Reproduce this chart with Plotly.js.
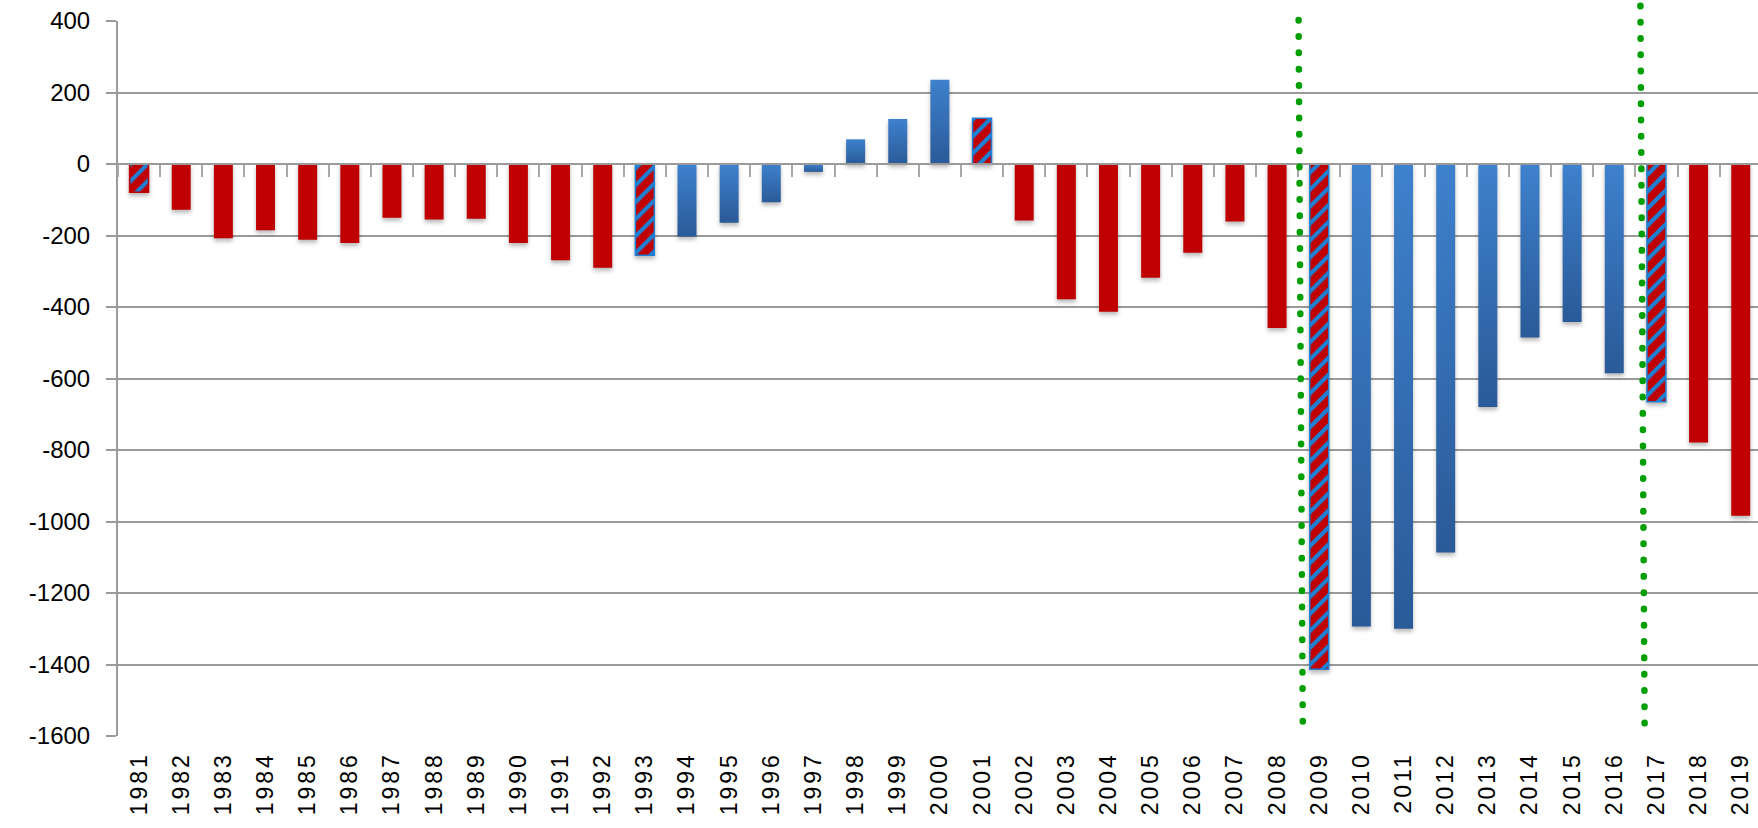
<!DOCTYPE html>
<html><head><meta charset="utf-8">
<script src="https://cdn.plot.ly/plotly-3.0.1.min.js"></script>
<style>
html,body{margin:0;padding:0;background:#fff;}
#chart{width:1758px;height:828px;}
.shapelayer path{stroke-linecap:round !important;}
.xtick text{letter-spacing:3px;}
.bars .point path{filter:drop-shadow(0px 3px 2px rgba(0,0,0,0.28));}
</style></head><body><div id="chart"></div>
<script>
const years = ['1981','1982','1983','1984','1985','1986','1987','1988','1989','1990',
  '1991','1992','1993','1994','1995','1996','1997','1998','1999','2000',
  '2001','2002','2003','2004','2005','2006','2007','2008','2009','2010',
  '2011','2012','2013','2014','2015','2016','2017','2018','2019'];
const balance = [-79,-128,-208,-185,-212,-221,-150,-155,-153,-221,
  -269,-290,-255,-203,-164,-107,-22,69,126,236,
  128,-158,-378,-413,-318,-248,-161,-459,-1413,-1294,
  -1300,-1087,-680,-485,-442,-585,-665,-779,-984];
// R = red, D = blue, T = transition year (striped)
const party = ['T','R','R','R','R','R','R','R','R','R',
  'R','R','T','D','D','D','D','D','D','D',
  'T','R','R','R','R','R','R','R','T','D',
  'D','D','D','D','D','D','T','R','R'];
const yTickVals = [400,200,0,-200,-400,-600,-800,-1000,-1200,-1400,-1600];
const yTickText = ['400','200','0','-200','-400','-600','-800','-1000','-1200','-1400','-1600'];

const RED = '#C00000', BLUE = '#3A78C2', STRIPE = '#1E7FD3';
const fill = party.map(p => p === 'D' ? BLUE : RED);
const lineCol = party.map((p,i) => p === 'T' ? (i === 0 ? RED : STRIPE) : 'rgba(0,0,0,0)');
const lineW = party.map(p => p === 'T' ? 1.5 : 0);

const trace = {
  type: 'bar', x: years, y: balance,
  marker: {color: fill, line: {color: lineCol, width: lineW}},
  hoverinfo: 'none'
};

const GRID = '#9a9a9a';
const FONT = 'Liberation Sans, Arial, sans-serif';
const dividers = [
  {x0: 27.51, x1: 27.61, y0: 1.0014, y1: 0.0160},
  {x0: 35.62, x1: 35.72, y0: 1.0215, y1: 0.0133}
];

const layout = {
  width: 1758, height: 828,
  margin: {l: 118, r: 0, t: 21, b: 92, pad: 0},
  paper_bgcolor: '#ffffff', plot_bgcolor: '#ffffff',
  showlegend: false,
  bargap: 0.55,
  font: {family: FONT, color: '#000000'},
  xaxis: {
    type: 'category', range: [-0.5, 38.41],
    anchor: 'free', position: 0.8, side: 'bottom',
    showline: true, linecolor: GRID, linewidth: 2,
    ticks: 'outside', tickson: 'boundaries', ticklen: 12, tickwidth: 2, tickcolor: '#a8a8a8',
    showgrid: false, zeroline: false,
    tickangle: -90, ticklabelstandoff: 578,
    tickfont: {family: FONT, size: 23, color: '#000000'}
  },
  yaxis: {
    range: [-1600, 400], tickmode: 'array', tickvals: yTickVals, ticktext: yTickText,
    showgrid: true, gridcolor: GRID, gridwidth: 2, zeroline: false,
    showline: true, linecolor: GRID, linewidth: 2,
    ticks: 'outside', ticklen: 10, tickwidth: 2, tickcolor: GRID,
    ticklabelstandoff: 11,
    tickfont: {family: FONT, size: 24, color: '#000000'}
  },
  shapes: dividers.map(d => ({
    type: 'line', xref: 'x', yref: 'paper', layer: 'above',
    x0: d.x0, x1: d.x1, y0: d.y0, y1: d.y1,
    line: {color: '#009e00', width: 6.5, dash: '0.5px,15.8px'}
  })),
  hovermode: false
};

const gd = document.getElementById('chart');
Plotly.newPlot(gd, [trace], layout, {staticPlot: true, displayModeBar: false}).then(() => {
  const NS = 'http://www.w3.org/2000/svg';
  const svg = gd.querySelector('.main-svg');
  let defs = svg.querySelector('defs');
  if (!defs) { defs = document.createElementNS(NS, 'defs'); svg.insertBefore(defs, svg.firstChild); }
  const mk = (tag, attrs, parent) => {
    const el = document.createElementNS(NS, tag);
    Object.entries(attrs).forEach(([k, v]) => el.setAttribute(k, v));
    parent.appendChild(el);
    return el;
  };
  const lg = mk('linearGradient', {id: 'blueGrad', x1: 0, y1: 0, x2: 0, y2: 1}, defs);
  mk('stop', {offset: '0%', 'stop-color': '#3E81CD'}, lg);
  mk('stop', {offset: '100%', 'stop-color': '#2A5A98'}, lg);
  const pat = mk('pattern', {id: 'stripes', patternUnits: 'userSpaceOnUse', width: 12, height: 12,
    patternTransform: 'rotate(45)'}, defs);
  mk('rect', {x: 0, y: 0, width: 12, height: 12, fill: RED}, pat);
  mk('rect', {x: 0, y: 0, width: 4.2, height: 12, fill: STRIPE}, pat);
  gd.querySelectorAll('.bars .point path').forEach((p, i) => {
    if (party[i] === 'D') p.style.fill = 'url(#blueGrad)';
    if (party[i] === 'T') p.style.fill = 'url(#stripes)';
  });
});
</script></body></html>
